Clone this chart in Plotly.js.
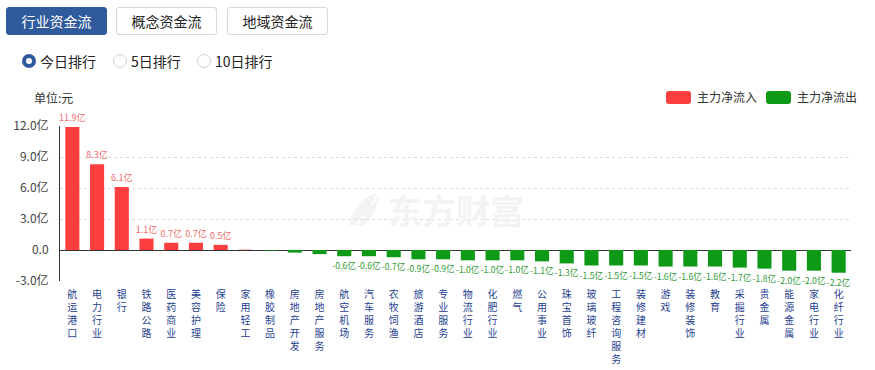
<!DOCTYPE html>
<html>
<head>
<meta charset="utf-8">
<script src="https://cdn.plot.ly/plotly-3.0.1.min.js"></script>
<style>
  html, body { margin:0; padding:0; background:#fff; width:875px; height:370px; overflow:hidden;
    font-family:"Noto Sans CJK SC","Noto Sans",sans-serif; }
  #chart { position:absolute; left:0; top:0; width:875px; height:370px; }
  .btn { position:absolute; top:7px; height:28px; width:101px; box-sizing:border-box; border:1px solid #d4d8de;
    border-radius:3px; background:#fff; color:#222; font-size:14px; line-height:26px; text-align:center; z-index:2; }
  .btn.on { background:#2f5b9c; border-color:#2f5b9c; color:#fff; }
  .radio { position:absolute; top:53px; height:16px; font-size:14px; line-height:16px; color:#222; z-index:2; }
  .radio i { position:absolute; left:0; top:1px; width:14px; height:14px; box-sizing:border-box; border-radius:50%;
    border:1px solid #cdd3db; background:#fff; }
  .radio.on i { border:4px solid #2f5b9c; }
  .radio span { position:absolute; left:18px; top:0; white-space:nowrap; }
  .unit { position:absolute; left:34px; top:89px; font-size:12px; color:#333; z-index:2; }
  .leg { position:absolute; top:90px; height:14px; font-size:12px; line-height:14px; color:#333; z-index:2; }
  .leg i { position:absolute; left:0; top:1px; width:25px; height:13px; border-radius:3px; }
  .leg span { position:absolute; left:31px; top:0; white-space:nowrap; }
</style>
</head>
<body>
<div id="chart"></div>
<div class="btn on" style="left:6px">行业资金流</div>
<div class="btn" style="left:116px">概念资金流</div>
<div class="btn" style="left:227px">地域资金流</div>
<div class="radio on" style="left:22px"><i></i><span>今日排行</span></div>
<div class="radio" style="left:113px"><i></i><span>5日排行</span></div>
<div class="radio" style="left:197px"><i></i><span>10日排行</span></div>
<div class="unit">单位:元</div>
<div class="leg" style="left:666px"><i style="background:#fd3e3e"></i><span>主力净流入</span></div>
<div class="leg" style="left:766px"><i style="background:#0e9a17"></i><span>主力净流出</span></div>
<script>
const categories = ["航运港口","电力行业","银行","铁路公路","医药商业","美容护理","保险","家用轻工","橡胶制品",
  "房地产开发","房地产服务","航空机场","汽车服务","农牧饲渔","旅游酒店","专业服务","物流行业","化肥行业","燃气",
  "公用事业","珠宝首饰","玻璃玻纤","工程咨询服务","装修建材","游戏","装修装饰","教育","采掘行业","贵金属",
  "能源金属","家电行业","化纤行业"];
// 主力净流 (亿元)
const values = [11.9, 8.3, 6.1, 1.1, 0.7, 0.7, 0.5, 0.03, -0.05,
  -0.25, -0.4, -0.6, -0.6, -0.7, -0.9, -0.9, -1.0, -1.0, -1.0,
  -1.1, -1.3, -1.5, -1.5, -1.5, -1.6, -1.6, -1.6, -1.7, -1.8,
  -2.0, -2.0, -2.2];
const yTickVals = [-3, 0, 3, 6, 9, 12];
const yTickText = ["-3.0亿", "0.0", "3.0亿", "6.0亿", "9.0亿", "12.0亿"];

const RED = "#fd3e3e", GREEN = "#0e9a17";
const inflow = values.map(v => v >= 0 ? v : null);
const outflow = values.map(v => v < 0 ? v : null);
const label = v => (v !== null && Math.abs(v) >= 0.5) ? v.toFixed(1) + "亿" : "";
const tickText = categories.map(c => c.split("").join("<br>"));
const FONT = "Noto Sans CJK SC, Noto Sans, sans-serif";

const common = {
  type: "bar", x: categories, width: 0.57, textposition: "outside", cliponaxis: false,
  constraintext: "none", hoverinfo: "x+y", showlegend: false
};
const traces = [
  Object.assign({}, common, { name: "主力净流入", y: inflow, marker: { color: RED },
    text: inflow.map(label), textfont: { size: 9, color: "#f26a6a", family: FONT } }),
  Object.assign({}, common, { name: "主力净流出", y: outflow, marker: { color: GREEN },
    text: outflow.map(label), textfont: { size: 8.6, color: "#2e9a35", family: FONT } })
];

const layout = {
  width: 875, height: 370,
  margin: { l: 60, r: 24, t: 126, b: 89 },
  paper_bgcolor: "#fff", plot_bgcolor: "#fff",
  barmode: "overlay",
  font: { family: FONT, color: "#333" },
  xaxis: {
    type: "category", tickvals: categories, ticktext: tickText, tickangle: 0,
    showgrid: false, showline: false, ticks: "", zeroline: false,
    tickfont: { size: 10, color: "#1f3f8f", family: FONT }, ticklabelstandoff: 6
  },
  yaxis: {
    range: [-3, 12], tickvals: yTickVals, ticktext: yTickText,
    showgrid: true, gridcolor: "#dcdcdc", griddash: "dot", gridwidth: 1,
    zeroline: true, zerolinecolor: "#333", zerolinewidth: 1,
    showline: true, linecolor: "#333", linewidth: 1, ticks: "",
    tickfont: { size: 12, color: "#444", family: FONT }, ticklabelstandoff: 8
  },
  shapes: [{
    type: "path", xref: "paper", yref: "paper", layer: "below", line: { width: 0 }, fillcolor: "#f3f3f3",
    path: "M 0.365 0.36 C 0.37 0.47 0.385 0.55 0.40 0.57 C 0.395 0.50 0.39 0.44 0.375 0.36 Z " +
          "M 0.372 0.36 C 0.39 0.45 0.40 0.52 0.405 0.56 C 0.40 0.47 0.395 0.41 0.382 0.35 Z"
  }],
  annotations: [{
    xref: "paper", yref: "paper", x: 0.50, y: 0.46, showarrow: false,
    text: "<b>东方财富</b>", font: { size: 34, color: "#f3f3f3", family: FONT }
  }]
};
Plotly.newPlot("chart", traces, layout, { displayModeBar: false, staticPlot: true });
</script>
</body>
</html>
